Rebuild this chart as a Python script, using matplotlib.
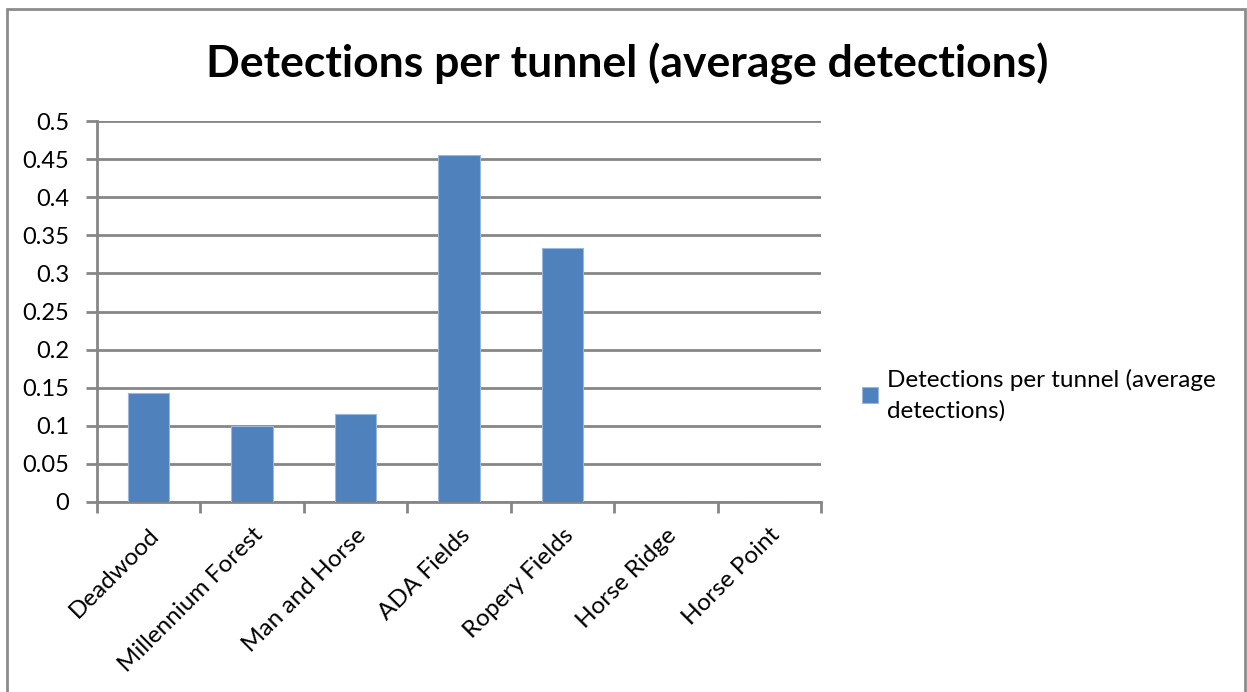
import numpy as np
import matplotlib
matplotlib.use('Agg')
from matplotlib import pyplot as plt
from matplotlib.patches import Rectangle

plt.rcParams['font.family'] = ['Lato', 'DejaVu Sans']

sites = ['Deadwood', 'Millennium Forest', 'Man and Horse', 'ADA Fields',
         'Ropery Fields', 'Horse Ridge', 'Horse Point']
detections = [0.143, 0.1, 0.115, 0.455, 0.333, 0, 0]
series_name = 'Detections per tunnel (average\ndetections)'
title = 'Detections per tunnel (average detections)'

bar_color = '#4f81bd'
grid_color = '#868686'

fig = plt.figure(figsize=(12.47, 6.92), dpi=100)
ax = fig.add_axes([0.0778, 0.2746, 0.5806, 0.5505])

x = np.arange(len(sites))
ax.bar(x, detections, width=0.4, color=bar_color, edgecolor='#9bb7dd',
       linewidth=0.8, label=series_name, zorder=3)

ax.set_xlim(-0.5, len(sites) - 0.5)
ax.set_ylim(0, 0.5)
yt = np.arange(0, 0.51, 0.05)
ax.set_yticks(yt)
ax.set_yticklabels(['0' if v == 0 else f'{v:.2f}'.rstrip('0') for v in yt])
ax.yaxis.grid(True, color=grid_color, linewidth=2, zorder=0)
ax.set_axisbelow(True)

ax.set_xticks(x)
ax.set_xticklabels(sites, rotation=45, ha='right', rotation_mode='anchor')
ax.set_xticks(np.arange(-0.5, len(sites)), minor=True)
ax.tick_params(axis='x', which='major', length=0, pad=16, labelsize=17.5)
ax.tick_params(axis='x', which='minor', length=8, width=2, color=grid_color)
ax.tick_params(axis='y', length=8, width=2, color=grid_color, labelsize=17,
               pad=12)

for side in ['top', 'right']:
    ax.spines[side].set_visible(False)
for side in ['left', 'bottom']:
    ax.spines[side].set_color(grid_color)
    ax.spines[side].set_linewidth(2)

fig.text(0.503, 0.908, title, ha='center', va='center', fontsize=32,
         fontweight='bold')

leg = ax.legend(loc='center left', bbox_to_anchor=(1.027, 0.28), frameon=False,
                fontsize=17.5, handlelength=0.65, handleheight=0.65,
                handletextpad=0.35, labelspacing=0.3)
for t in leg.get_texts():
    t.set_linespacing(1.55)

fig.patches.append(Rectangle((7 / 1247, -0.05), 1238 / 1247, 1.05 - 9 / 692,
                             transform=fig.transFigure, fill=False,
                             edgecolor='#8c8c8c', linewidth=2))

fig.savefig('out.png', dpi=100)
